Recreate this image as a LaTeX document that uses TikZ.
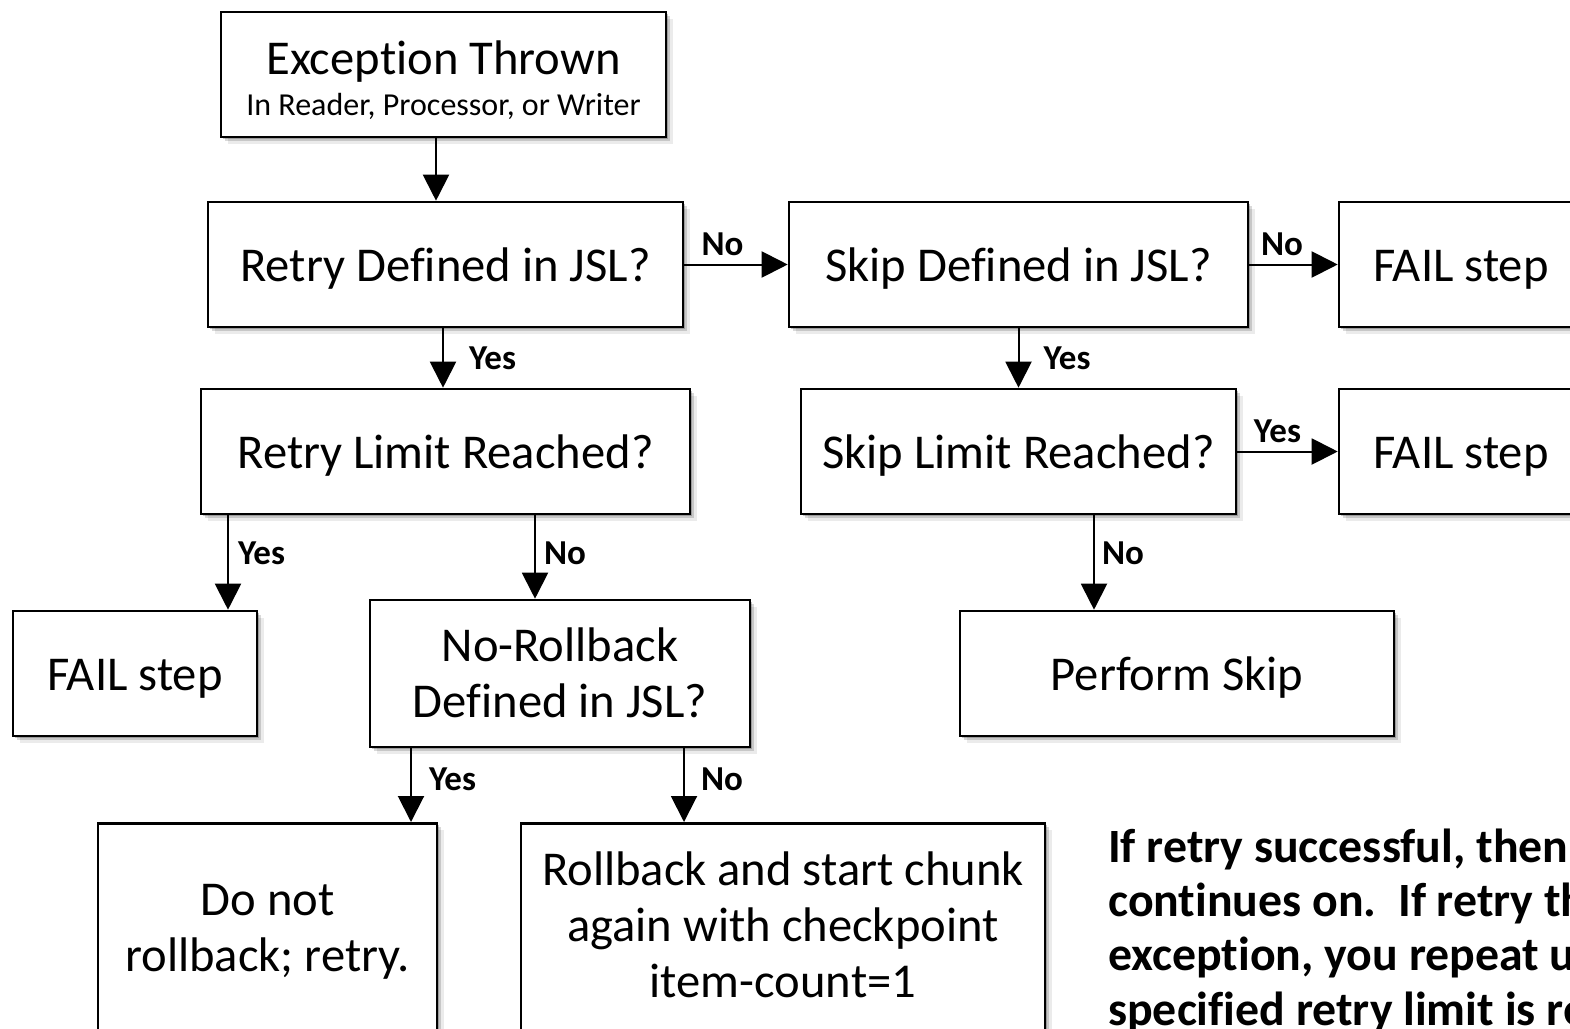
\documentclass[tikz,border=0pt]{standalone}
\usepackage{fontspec}
\setmainfont{Carlito}[Ligatures=NoCommon]
\usetikzlibrary{arrows.meta,shadows,calc}
\begin{document}
\begin{tikzpicture}[x=1pt,y=-1pt,
  boxframe/.style={draw,line width=2.6pt,fill=white,rectangle,inner sep=0pt,
    minimum height=125pt,align=center,font=\fontsize{48.6}{57}\selectfont,
    drop shadow={shadow xshift=2pt,shadow yshift=-2pt,opacity=0.22,fill=black},
    drop shadow={shadow xshift=4pt,shadow yshift=-4pt,opacity=0.15,fill=black},
    drop shadow={shadow xshift=7pt,shadow yshift=-7pt,opacity=0.08,fill=black}},
  box/.style={boxframe,text height=36pt,text depth=2pt},
  txt/.style={inner sep=0pt,anchor=base,font=\fontsize{48.6}{57}\selectfont},
  arr/.style={line width=2pt,-{Triangle[length=26pt,width=26pt]}},
  lbl/.style={inner sep=0pt,font=\fontsize{35}{40}\bfseries\selectfont},
  note/.style={inner sep=0pt,anchor=base west,font=\fontsize{47.8}{53}\bfseries\selectfont}]
\clip (0,0) rectangle (1570,1028);
\fill[white] (0,0) rectangle (1570,1028);

\node[boxframe,minimum width=445pt] (ex) at (443.5,74.5) {};
\node[txt] (ext) at (443.5,74) {Exception Thrown};
\node[txt,font=\fontsize{32}{38}\selectfont] (exs) at (443.5,115) {In Reader, Processor, or Writer};
\node[box,minimum width=475pt] (rd) at (445.5,264.5) {Retry Defined in JSL?};
\node[box,minimum width=459pt] (sd) at (1018.5,264.5) {Skip Defined in JSL?};
\node[box,minimum width=244pt] (f1) at (1461,264.5) {FAIL step};
\node[box,minimum width=489pt] (rl) at (445.5,451.5) {Retry Limit Reached?};
\node[box,minimum width=435pt] (sl) at (1018.5,451.5) {Skip Limit Reached?};
\node[box,minimum width=244pt] (f2) at (1461,451.5) {FAIL step};
\node[box,minimum width=244pt] (f3) at (135,673.5) {FAIL step};
\node[boxframe,minimum width=380pt,minimum height=147pt] (nr) at (560,673.5) {};
\node[txt] (nrt1) at (560,661) {No-Rollback};
\node[txt] (nrt2) at (560,717) {Defined in JSL?};
\node[box,minimum width=434pt] (ps) at (1177,673.5) {Perform Skip};
\node[boxframe,minimum width=339pt,minimum height=260pt,anchor=north] (dn) at (267.5,822) {};
\node[txt] (dnt1) at (267.5,915) {Do not};
\node[txt] (dnt2) at (267.5,971) {rollback; retry.};
\node[boxframe,minimum width=524pt,minimum height=260pt,anchor=north] (rb) at (783,822) {};
\node[txt] (rbt1) at (783,885) {Rollback and start chunk};
\node[txt] (rbt2) at (783,941) {again with checkpoint};
\node[txt] (rbt3) at (783,997) {item-count=1};

\node[note] (nt1) at (1108,862) {If retry successful, then processing};
\node[note] (nt2) at (1108,916) {continues on.\ \ If retry throws};
\node[note] (nt3) at (1108,970) {exception, you repeat until};
\node[note] (nt4) at (1108,1025) {specified retry limit is reached.};

\coordinate (xa) at (228,0);
\coordinate (xb) at (535,0);
\coordinate (xc) at (1094,0);
\coordinate (xd) at (411,0);
\coordinate (xe) at (684,0);
\coordinate (xf) at (443,0);
\coordinate (xg) at (436,0);

\draw[arr] (ex.south -| xg) -- (rd.north -| xg);
\draw[arr] (rd) -- node[lbl,pos=0.37,above=8pt] {No} (sd);
\draw[arr] (sd) -- node[lbl,pos=0.37,above=8pt] {No} (f1);
\draw[arr] (rd.south -| xf) -- node[lbl,right=25pt] {Yes} (rl.north -| xf);
\draw[arr] (sd.south) -- node[lbl,right=24pt] {Yes} (sl.north);
\draw[arr] (sl) -- node[lbl,pos=0.4,above=8pt] {Yes} (f2);
\draw[arr] (rl.south -| xa) -- node[lbl,pos=0.4,right=9pt] {Yes} (f3.north -| xa);
\draw[arr] (rl.south -| xb) -- node[lbl,pos=0.45,right=8pt] {No} (nr.north -| xb);
\draw[arr] (sl.south -| xc) -- node[lbl,pos=0.4,right=7pt] {No} (ps.north -| xc);
\draw[arr] (nr.south -| xd) -- node[lbl,pos=0.42,right=17pt] {Yes} (dn.north -| xd);
\draw[arr] (nr.south -| xe) -- node[lbl,pos=0.42,right=16pt] {No} (rb.north -| xe);
\end{tikzpicture}
\end{document}
